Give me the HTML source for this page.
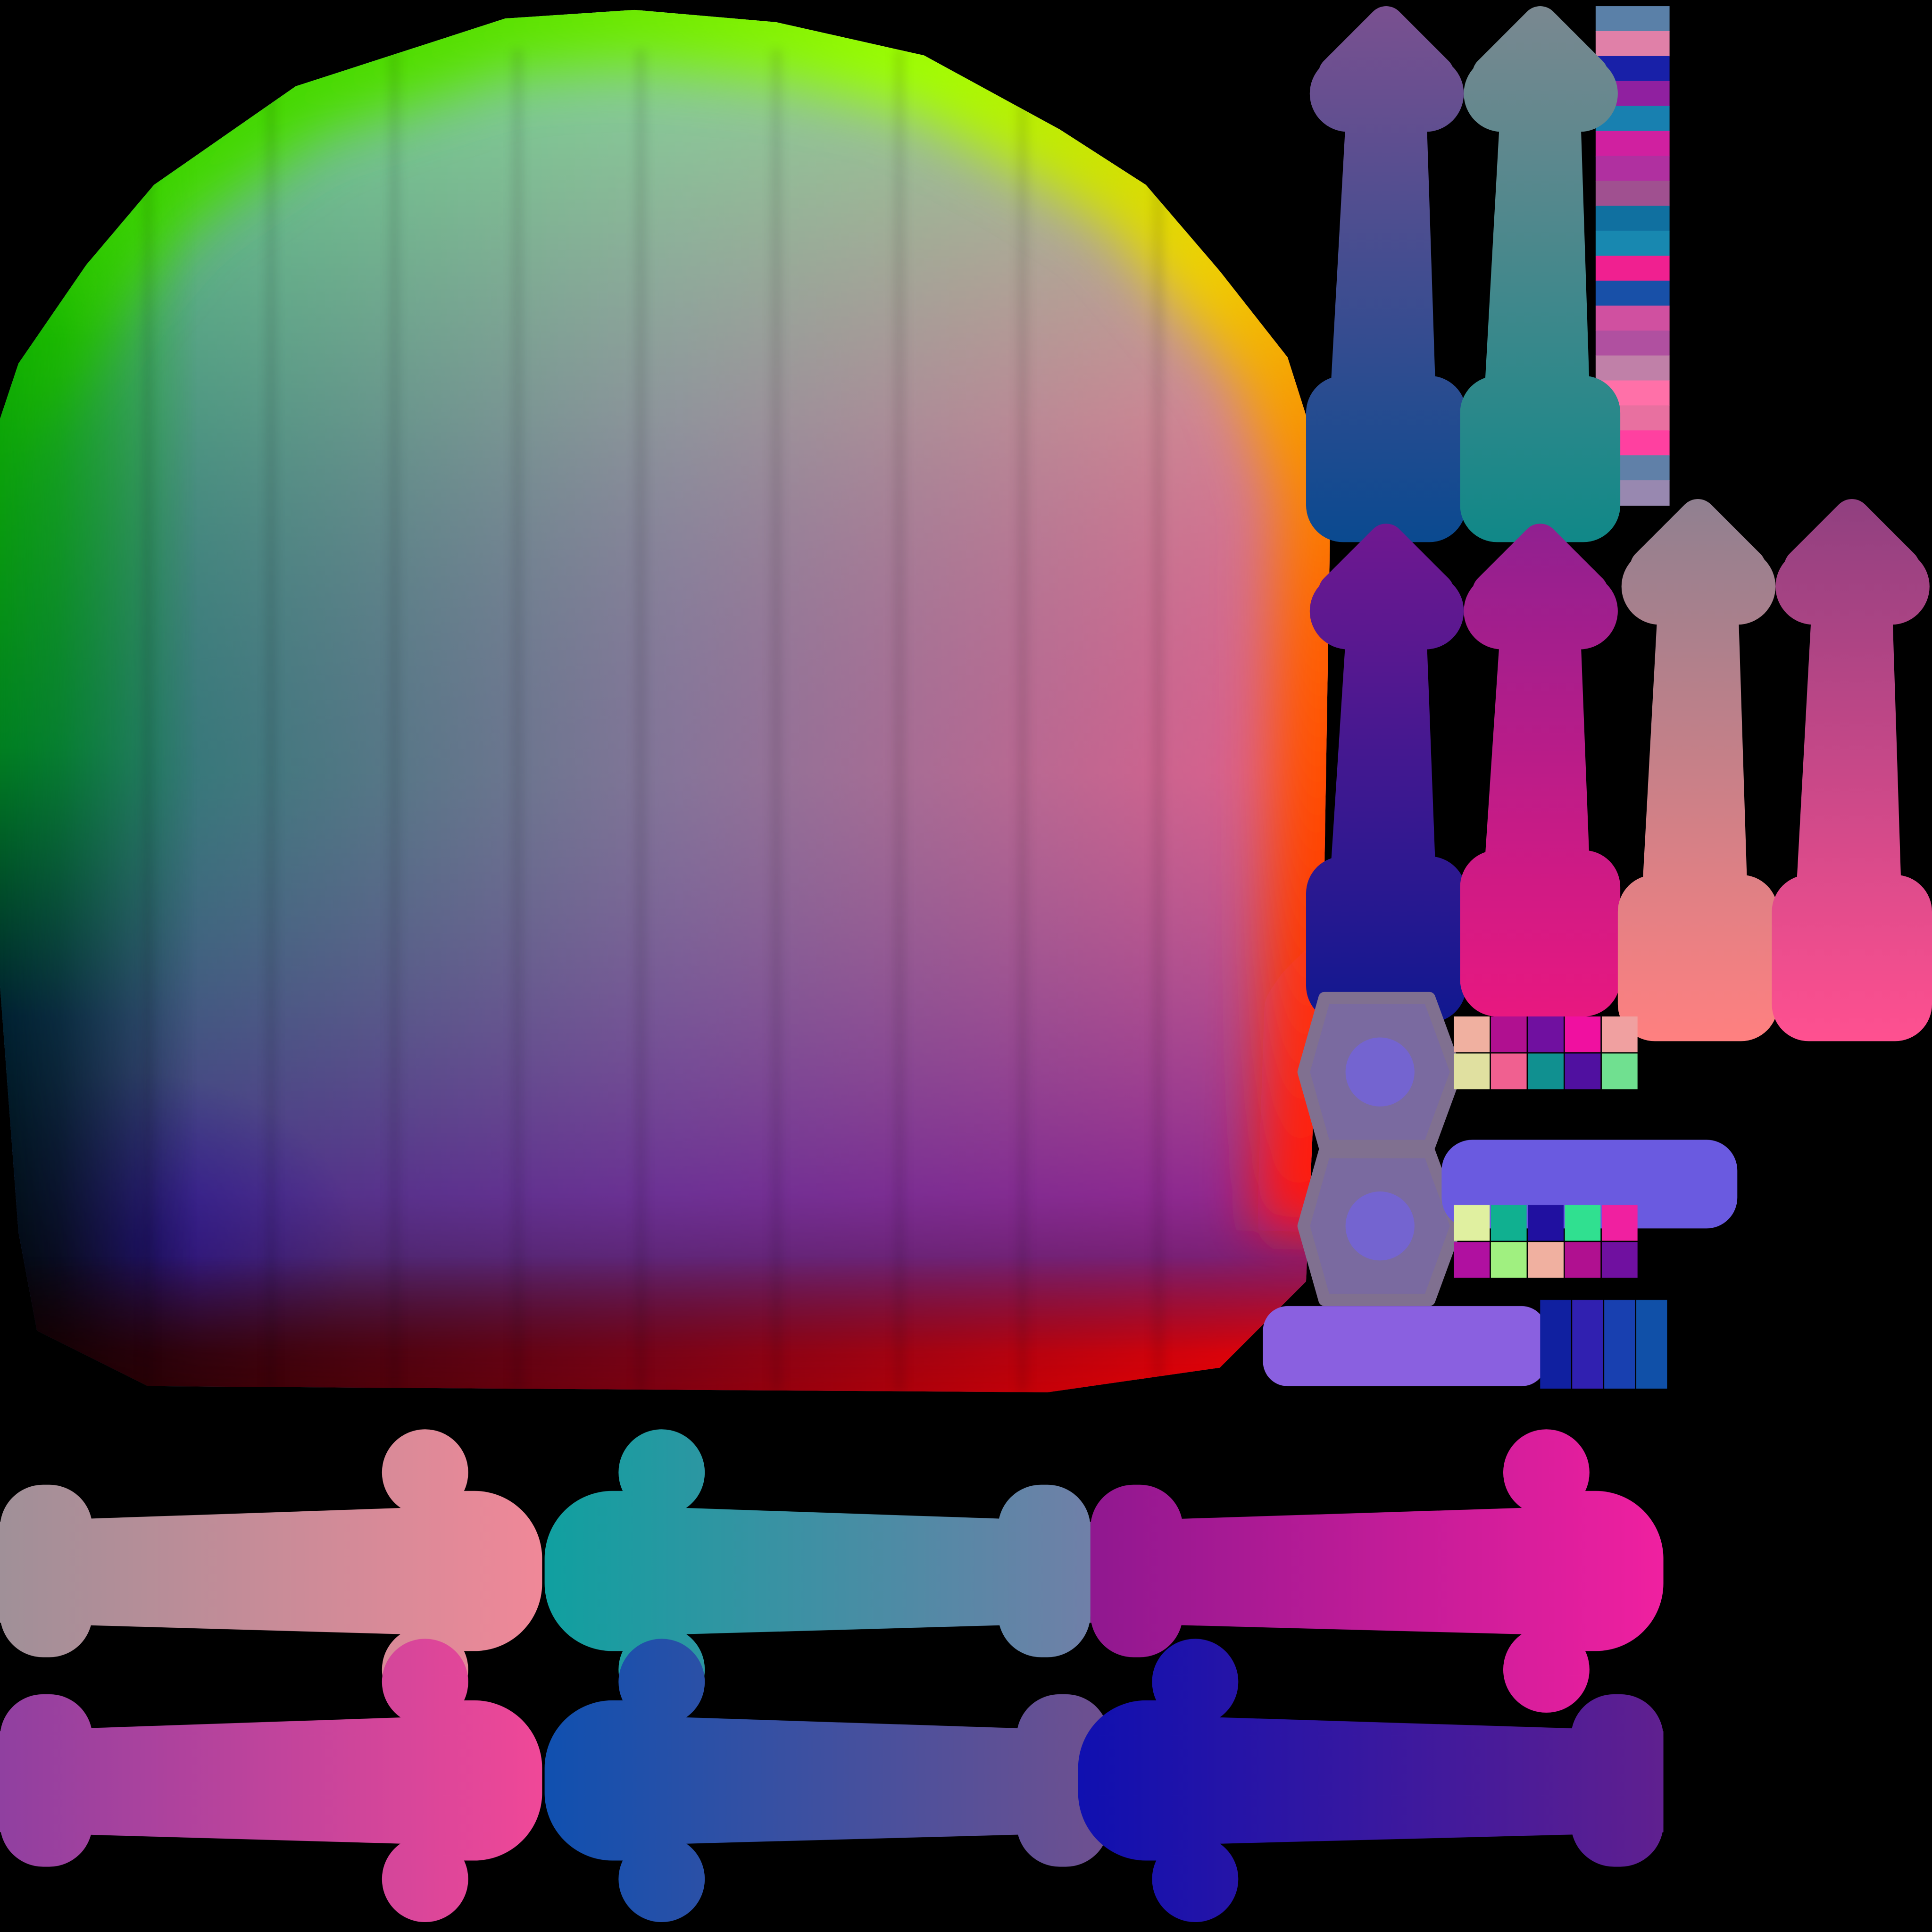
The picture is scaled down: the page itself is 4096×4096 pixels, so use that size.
<!DOCTYPE html>
<html><head><meta charset="utf-8"><style>
html,body{margin:0;padding:0;background:#000;width:4096px;height:4096px;overflow:hidden}
svg{display:block}
</style></head><body>
<svg id="s" width="4096" height="4096" viewBox="0 0 1568 1568" xmlns="http://www.w3.org/2000/svg">
<defs>
<linearGradient id="bh" x1="0" y1="0" x2="1" y2="0">
<stop offset="0" stop-color="#10806a"/><stop offset="0.5" stop-color="#8a7a9a"/><stop offset="1" stop-color="#f8608a"/>
</linearGradient>
<linearGradient id="bv" x1="0" y1="0" x2="0" y2="1">
<stop offset="0" stop-color="#80ff90" stop-opacity="0.75"/><stop offset="0.3" stop-color="#a0e0a0" stop-opacity="0.25"/>
<stop offset="0.55" stop-color="#604090" stop-opacity="0.1"/><stop offset="0.85" stop-color="#5a0090" stop-opacity="0.6"/>
<stop offset="1" stop-color="#300010" stop-opacity="0.9"/>
</linearGradient>
<linearGradient id="rim" gradientUnits="userSpaceOnUse" x1="100" y1="100" x2="1080" y2="1100">
<stop offset="0" stop-color="#30d000"/><stop offset="0.3" stop-color="#a0ff00"/><stop offset="0.5" stop-color="#f0d000"/>
<stop offset="0.7" stop-color="#ff6000"/><stop offset="1" stop-color="#ff0010"/>
</linearGradient>
<linearGradient id="rimL" gradientUnits="userSpaceOnUse" x1="0" y1="0" x2="0" y2="1100">
<stop offset="0" stop-color="#30d000" stop-opacity="0"/><stop offset="0.25" stop-color="#10b000"/><stop offset="0.55" stop-color="#008020"/><stop offset="0.75" stop-color="#002030"/><stop offset="1" stop-color="#000000"/>
</linearGradient>
<linearGradient id="rimB" gradientUnits="userSpaceOnUse" x1="0" y1="0" x2="1060" y2="0">
<stop offset="0" stop-color="#100000"/><stop offset="0.5" stop-color="#800010"/><stop offset="1" stop-color="#ff0000"/>
</linearGradient>
<linearGradient id="fadeH" x1="0" y1="0" x2="1" y2="0">
<stop offset="0" stop-color="#fff"/><stop offset="0.3" stop-color="#fff" stop-opacity="0.8"/><stop offset="1" stop-color="#fff" stop-opacity="0"/>
</linearGradient>
<linearGradient id="fadeV" x1="0" y1="1" x2="0" y2="0">
<stop offset="0" stop-color="#fff"/><stop offset="0.35" stop-color="#fff" stop-opacity="0.85"/><stop offset="1" stop-color="#fff" stop-opacity="0"/>
</linearGradient>
<mask id="mL" maskUnits="userSpaceOnUse" x="0" y="0" width="200" height="1200"><rect x="0" y="0" width="160" height="1200" fill="url(#fadeH)"/></mask>
<mask id="mB" maskUnits="userSpaceOnUse" x="0" y="900" width="1100" height="300"><rect x="0" y="1020" width="1100" height="120" fill="url(#fadeV)"/></mask>
<radialGradient id="blueBL" cx="0.5" cy="0.5" r="0.5">
<stop offset="0" stop-color="#100090" stop-opacity="0.5"/><stop offset="1" stop-color="#100090" stop-opacity="0"/>
</radialGradient>
<clipPath id="bclip"><path d="M0,340 L15,295 L70,215 L125,150 L240,70 L410,15 L515,8 L630,18 L750,45 L860,105 L930,150 L990,220 L1045,290 L1080,400 L1075,700 L1060,1040 L990,1110 L850,1130 L120,1125 L30,1080 L15,1000 L0,800 Z"/></clipPath>
<filter id="blur" filterUnits="userSpaceOnUse" x="-300" y="-300" width="1800" height="1800"><feGaussianBlur stdDeviation="22"/></filter>
<filter id="blur2" filterUnits="userSpaceOnUse" x="-200" y="-200" width="1600" height="1600"><feGaussianBlur stdDeviation="4"/></filter>
</defs>
<g id="blob" clip-path="url(#bclip)">
<rect x="0" y="0" width="1100" height="1140" fill="url(#bh)"/>
<rect x="0" y="0" width="1100" height="1140" fill="url(#bv)"/>
<ellipse cx="110" cy="1010" rx="180" ry="140" fill="url(#blueBL)"/>
<path filter="url(#blur)" d="M-40,340 L15,295 L70,215 L125,150 L240,70 L410,15 L515,8 L630,18 L750,45 L860,105 L930,150 L990,220 L1045,290 L1080,400 L1075,700 L1065,1000" fill="none" stroke="url(#rim)" stroke-width="90" stroke-linejoin="round"/>
<rect x="0" y="0" width="160" height="1180" fill="url(#rimL)" mask="url(#mL)"/>
<rect x="0" y="1020" width="1100" height="120" fill="url(#rimB)" mask="url(#mB)"/>
<g id="stripes" filter="url(#blur2)"></g>
</g>
<g id="strip"></g>
<g id="varrows"></g>
<g id="patch"></g>
<g id="harrows"></g>
</svg>
<script>
const NS="http://www.w3.org/2000/svg";
const stripeXs=[120,220,320,420,520,630,730,830,940];
const bandColors=["#5a80a8","#e080a8","#1820a8","#9020a0","#1880b0","#d020a0","#b030a0","#a05090","#1070a0","#1888b0","#f02090","#1850a8","#d050a0","#b050a0","#c080a8","#ff70a8","#e870a0","#ff40a0","#6080a8","#9888b0"];
const vArrowCx=[1125,1250,1125,1250,1378,1503];
const vArrowTop=[5,5,425,425,405,405];
const vArrowBot=[440,440,830,825,845,845];
const vArrowC1=["#7a5090","#7a8890","#701890","#902090","#908090","#904080"];
const vArrowC2=["#0a4a90","#108888","#101890","#e81880","#ff8080","#ff5090"];
const hArrowX0=[0,442,885,0,442,875];
const hArrowX1=[440,885,1350,440,900,1350];
const hArrowY=[1275,1275,1275,1445,1445,1445];
const hArrowHeadRight=[1,0,1,1,0,0];
const hArrowC1=["#a09098","#10a0a0","#901890","#9040a0","#1050b0","#1010b0"];
const hArrowC2=["#f08898","#7080a8","#f020a0","#f04898","#705090","#602090"];
const mosaicColors=["#f0b0a0","#b01090","#7010a0","#f010a0","#f0a0a0","#e0e0a0","#f06090","#109090","#5010a0","#70e090","#e0f0a0","#10b090","#2010a0","#30e090","#f020a0","#b010a0","#a0f080"];
function el(t,a,p){const e=document.createElementNS(NS,t);for(const k in a)e.setAttribute(k,a[k]);p.appendChild(e);return e;}
const defs=document.querySelector('defs');
const sg=document.getElementById('stripes');
stripeXs.forEach(x=>{const r=el('rect',{x:x-4,y:40,width:8,height:1090,fill:'#000',opacity:0.1},sg);

});
const st=document.getElementById('strip');
const bh=(410-5)/bandColors.length;
bandColors.forEach((c,i)=>{const r=el('rect',{x:1295,y:5+i*bh,width:60,height:bh+0.5,fill:c},st);

});
const va=document.getElementById('varrows');
vArrowCx.forEach((cx,i)=>{
 const y0=vArrowTop[i],y1=vArrowBot[i];
 const g=el('linearGradient',{id:'vg'+i,x1:0,y1:y0,x2:0,y2:y1,gradientUnits:'userSpaceOnUse'},defs);
 el('stop',{offset:0,'stop-color':vArrowC1[i]},g);el('stop',{offset:1,'stop-color':vArrowC2[i]},g);
 const grp=el('g',{fill:'url(#vg'+i+')'},va);
 
 
 el('polygon',{points:`${cx},${y0+15} ${cx-40},${y0+55} ${cx+40},${y0+55}`,stroke:'url(#vg'+i+')','stroke-width':30,'stroke-linejoin':'round'},grp);
 el('rect',{x:cx-62,y:y0+40,width:125,height:62,rx:31},grp);
 el('polygon',{points:`${cx-33},${y0+95} ${cx+33},${y0+95} ${cx+40},${y1-125} ${cx-45},${y1-125}`},grp);
 el('rect',{x:cx-65,y:y1-135,width:130,height:135,rx:30},grp);
});
const pa=document.getElementById('patch');
[[1120,870],[1120,995]].forEach(([x,y])=>{const p=el('polygon',{points:`${x-45},${y-60} ${x+40},${y-60} ${x+62},${y} ${x+40},${y+60} ${x-45},${y+60} ${x-62},${y}`,fill:'#7a6aa0',stroke:'#807090','stroke-width':10,'stroke-linejoin':'round'},pa);

el('circle',{cx:x,cy:y,r:28,fill:'#7060f0',opacity:0.6},pa);});
const bar=el('rect',{x:1170,y:925,width:240,height:72,rx:25,fill:'#6a5ae0'},pa);

const bar2=el('rect',{x:1025,y:1060,width:230,height:65,rx:20,fill:'#8a60e0'},pa);

let k=0;
for(let r=0;r<4;r++)for(let c=0;c<5;c++){const y=r<2?825+r*30:978+(r-2)*30;
 const m=el('rect',{x:1180+c*30,y:y,width:29,height:29,fill:mosaicColors[k%mosaicColors.length]},pa);k++;
 }
for(let c=0;c<4;c++){const m=el('rect',{x:1250+c*26,y:1055,width:25,height:72,fill:["#1020a0","#3020b0","#1840b0","#1050a8"][c]},pa);
 }
const ha=document.getElementById('harrows');
hArrowX0.forEach((x0,i)=>{
 const x1=hArrowX1[i],yc=hArrowY[i],right=hArrowHeadRight[i];
 const g=el('linearGradient',{id:'hg'+i,x1:x0,y1:0,x2:x1,y2:0,gradientUnits:'userSpaceOnUse'},defs);
 el('stop',{offset:0,'stop-color':hArrowC1[i]},g);el('stop',{offset:1,'stop-color':hArrowC2[i]},g);
 const grp=el('g',{fill:'url(#hg'+i+')'},ha);
 
 
 const hx=right?x1:x0, tx=right?x0:x1, d=right?-1:1;
 el('polygon',{points:`${tx},${yc-40} ${hx+d*90},${yc-52} ${hx+d*90},${yc+52} ${tx},${yc+42}`},grp);
 el('rect',{x:right?tx:tx-75,y:yc-70,width:75,height:140,rx:35},grp);
 el('rect',{x:Math.min(hx,hx+d*130),y:yc-65,width:130,height:130,rx:55},grp);
 el('circle',{cx:hx+d*95,cy:yc-80,r:35},grp);
 el('circle',{cx:hx+d*95,cy:yc+80,r:35},grp);
});
</script>
</body></html>
